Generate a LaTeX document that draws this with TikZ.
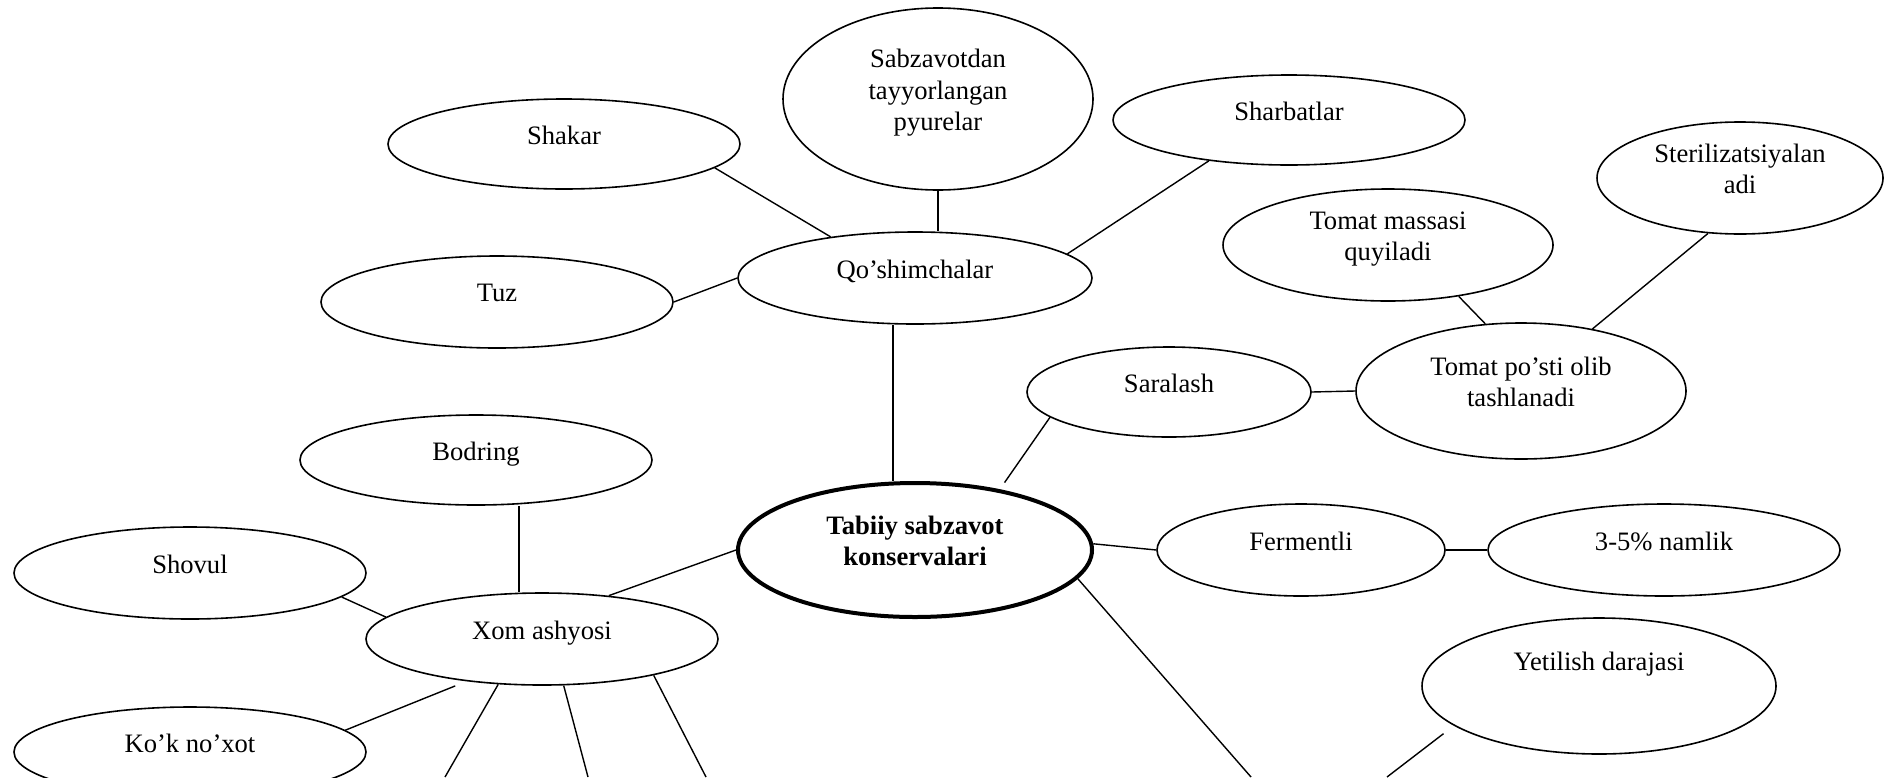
\documentclass[tikz,border=0pt]{standalone}
\usepackage{fontspec}
\setmainfont{Liberation Serif}
\usetikzlibrary{shapes.geometric,positioning}
\tikzset{
    base/.style={font=\fontsize{13.3}{15.7}\selectfont, align=center},
    bubble/.style={base, ellipse, draw, line width=0.8pt, inner sep=0pt, text depth=9pt},
    core/.style={bubble, line width=2pt, font=\fontsize{13.3}{15.7}\selectfont\bfseries},
    ell/.style 2 args={minimum width=#1pt, minimum height=#2pt},
    link/.style={line width=0.7pt}
}

\begin{document}
\begin{tikzpicture}[x=0.5pt, y=-0.5pt]
    \useasboundingbox (0,0) rectangle (1893,777);

    % Centre
    \node[core, ell={177}{67}] (tabiiy) at (915,550) {Tabiiy sabzavot\\konservalari};

    % Qo'shimchalar group
    \node[bubble, ell={177}{46}] (qosh) at (915,278) {Qo’shimchalar};
    \node[bubble, ell={155}{91}] (sabz) at (938,99) {Sabzavotdan\\tayyorlangan\\pyurelar};
    \node[bubble, ell={176}{45}] (shakar) at (564,144) {Shakar};
    \node[bubble, ell={176}{45}] (sharbat) at (1289,120) {Sharbatlar};
    \node[bubble, ell={176}{46}] (tuz) at (497,302) {Tuz};

    % Tomat branch
    \node[bubble, ell={142}{45}] (saral) at (1169,392) {Saralash};
    \node[bubble, ell={165}{68}] (tposti) at (1521,391) {Tomat po’sti olib\\tashlanadi};
    \node[bubble, ell={165}{56}] (tmassa) at (1388,245) {Tomat massasi\\quyiladi};
    \node[bubble, ell={143}{56}] (steril) at (1740,178) {Sterilizatsiyalan\\adi};

    % Fermentli branch
    \node[bubble, ell={144}{46}] (ferm) at (1301,550) {Fermentli};
    \node[bubble, ell={176}{46}] (namlik) at (1664,550) {3-5\% namlik};
    \node[bubble, ell={177}{68}, text depth=25pt] (yetil) at (1599,686) {Yetilish darajasi};

    % Xom ashyo group
    \node[bubble, ell={176}{46}] (xom) at (542,639) {Xom ashyosi};
    \node[bubble, ell={176}{45}] (bodring) at (476,460) {Bodring};
    \node[bubble, ell={176}{46}] (shovul) at (190,573) {Shovul};
    \node[bubble, ell={176}{45}] (kok) at (190,752) {Ko’k no’xot};

    % Free ends at the lower edge
    \coordinate (e1) at (445,777);
    \coordinate (e2) at (588,777);
    \coordinate (e3) at (706,777);
    \coordinate (e4) at (1251,777);
    \coordinate (e5) at (1387,777);

    % Connectors
    \draw[link] (shakar.-9) -- (qosh.154);
    \draw[link] (sabz.south) -- (sabz.south |- qosh.north);
    \draw[link] (sharbat.-153) -- (qosh.9);
    \draw[link] (tuz.east) -- (qosh.west);
    \draw[link] ([xshift=-11pt]qosh.south) -- ([xshift=-11pt]tabiiy.north);
    \draw[link] (saral.-168) -- ([shift={(8,-6)}]tabiiy.37);
    \draw[link] (saral.east) -- (tposti.west);
    \draw[link] (tmassa.-36) -- (tposti.118);
    \draw[link] (steril.-120) -- (tposti.41);
    \draw[link] (tabiiy.2) -- (ferm.west);
    \draw[link] (ferm.east) -- (namlik.west);
    \draw[link] (tabiiy.west) -- (xom.33);
    \draw[link] ([xshift=21.5pt]bodring.south) -- ([xshift=21.5pt]bodring.south |- xom.north);
    \draw[link] (shovul.-9) -- (xom.172);
    \draw[link] ([shift={(-8,5)}]xom.-152) -- (kok.8);
    \draw[link] (xom.-134) -- (e1);
    \draw[link] (xom.-65) -- (e2);
    \draw[link] (xom.-18) -- (e3);
    \draw[link] (tabiiy.-10) -- (e4);
    \draw[link] ([shift={(-16,5)}]yetil.-163) -- (e5);
\end{tikzpicture}
\end{document}
